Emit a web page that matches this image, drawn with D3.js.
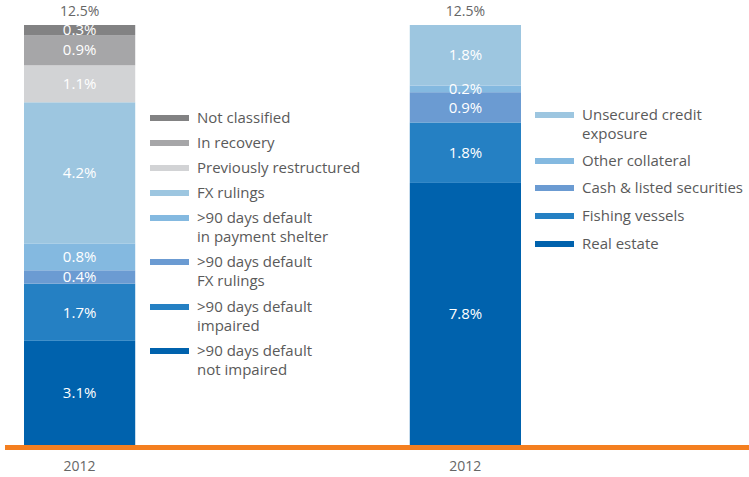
<!DOCTYPE html>
<html>
<head>
<meta charset="utf-8">
<script src="https://cdn.jsdelivr.net/npm/d3@7"></script>
<style>
  body { margin: 0; background: #fff; }
  svg text { font-family: "Open Sans", sans-serif; }
</style>
</head>
<body>
<div id="chart"></div>
<script>
// Dimensions
const width = 749;
const height = 477;

// Données
const groups = ["left", "right"];
const yearLabels = ["2012", "2012"];
const totals = ["12.5%", "12.5%"];

const leftCategories = [
  ">90 days default\nnot impaired",
  ">90 days default\nimpaired",
  ">90 days default\nFX rulings",
  ">90 days default\nin payment shelter",
  "FX rulings",
  "Previously restructured",
  "In recovery",
  "Not classified"
];
const leftValues = [3.1, 1.7, 0.4, 0.8, 4.2, 1.1, 0.9, 0.3];
const leftColors = ["#0062ad", "#2580c3", "#6b9bd2", "#84b9e0", "#9dc6e0", "#d2d3d5", "#a6a6a8", "#828283"];

const rightCategories = [
  "Real estate",
  "Fishing vessels",
  "Cash & listed securities",
  "Other collateral",
  "Unsecured credit\nexposure"
];
const rightValues = [7.8, 1.8, 0.9, 0.2, 1.8];
const rightColors = ["#0062ad", "#2580c3", "#6b9bd2", "#84b9e0", "#9dc6e0"];

const svg = d3.select("#chart")
  .append("svg")
  .attr("width", width)
  .attr("height", height);

// Échelles
const x = d3.scaleBand()
  .domain(groups)
  .range([24, 521])
  .paddingInner(0.7117);

const y = d3.scaleLinear()
  .domain([0, 12.5])
  .range([445, 25]);

// Empiler les segments
function stackSegments(values, categories, colors) {
  let acc = 0;
  return values.map((v, i) => {
    const seg = { y0: acc, y1: acc + v, value: v, cat: categories[i], color: colors[i] };
    acc += v;
    return seg;
  });
}

const stacks = {
  left: stackSegments(leftValues, leftCategories, leftColors),
  right: stackSegments(rightValues, rightCategories, rightColors)
};

groups.forEach((g, gi) => {
  const segs = stacks[g];
  const gBar = svg.append("g");

  gBar.selectAll("rect")
    .data(segs)
    .join("rect")
    .attr("x", x(g))
    .attr("width", x.bandwidth())
    .attr("y", d => y(d.y1))
    .attr("height", d => y(d.y0) - y(d.y1))
    .attr("fill", d => d.color);

  gBar.selectAll("text.val")
    .data(segs)
    .join("text")
    .attr("class", "val")
    .attr("x", x(g) + x.bandwidth() / 2)
    .attr("y", d => (y(d.y0) + y(d.y1)) / 2)
    .attr("dy", "0.35em")
    .attr("text-anchor", "middle")
    .attr("fill", "#fff")
    .style("font-size", "15px")
    .text(d => d.value.toFixed(1) + "%");

  // Total au-dessus
  svg.append("text")
    .attr("x", x(g) + x.bandwidth() / 2)
    .attr("y", y(d3.sum(segs, d => d.value)) - 14)
    .attr("dy", "0.35em")
    .attr("text-anchor", "middle")
    .attr("fill", "#666")
    .style("font-size", "14px")
    .text(totals[gi]);

  // Année
  svg.append("text")
    .attr("x", x(g) + x.bandwidth() / 2)
    .attr("y", 466)
    .attr("dy", "0.35em")
    .attr("text-anchor", "middle")
    .attr("fill", "#666")
    .style("font-size", "14px")
    .text(yearLabels[gi]);
});

// Ligne de base orange
svg.append("rect")
  .attr("x", 5)
  .attr("y", 445)
  .attr("width", width - 5)
  .attr("height", 5)
  .attr("fill", "#f47f20");

// Légendes
function drawLegend(items, colors, x0, ys) {
  const lg = svg.append("g");
  items.forEach((txt, i) => {
    lg.append("rect")
      .attr("x", x0)
      .attr("y", ys[i] - 3)
      .attr("width", 39)
      .attr("height", 6)
      .attr("fill", colors[i]);
    const t = lg.append("text")
      .attr("x", x0 + 47)
      .attr("y", ys[i])
      .attr("fill", "#5a5a5a")
      .style("font-size", "15px");
    txt.split("\n").forEach((line, j) => {
      t.append("tspan")
        .attr("x", x0 + 47)
        .attr("dy", j === 0 ? "0.35em" : "19px")
        .text(line);
    });
  });
}

// Ordre de légende : du haut vers le bas
const leftLegendYs = [118, 143, 168, 193, 218, 262, 307, 351];
drawLegend(leftCategories.slice().reverse(), leftColors.slice().reverse(), 150, leftLegendYs);

const rightLegendYs = [115, 161, 188, 216, 244];
drawLegend(rightCategories.slice().reverse(), rightColors.slice().reverse(), 535, rightLegendYs);
</script>
</body>
</html>
